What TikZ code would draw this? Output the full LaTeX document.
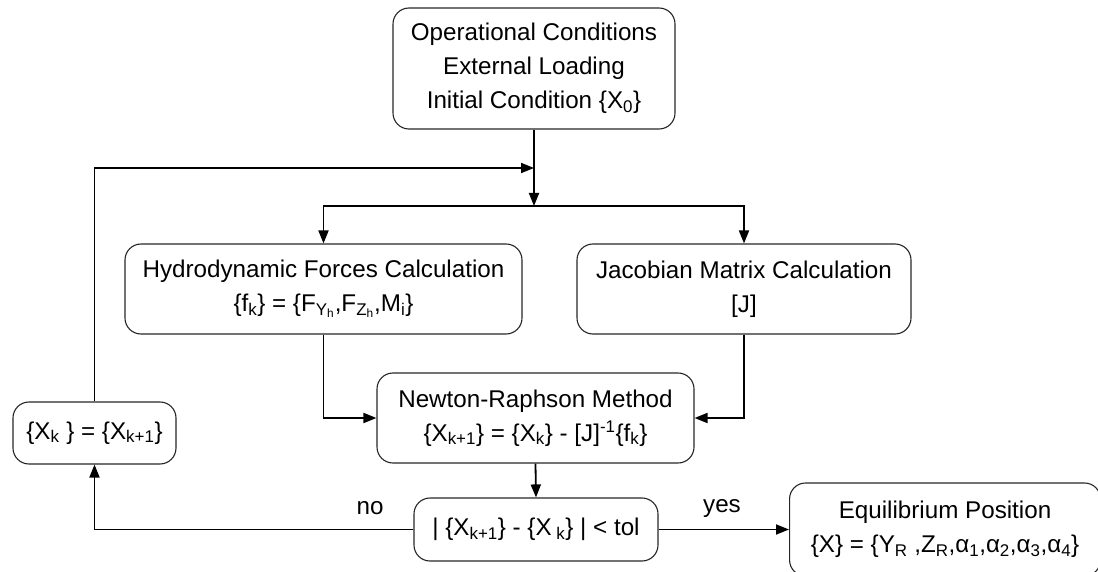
\documentclass[tikz,border=0pt]{standalone}
\usepackage{fontspec}
\setmainfont{Liberation Sans}
\usetikzlibrary{arrows.meta}
\newcommand{\sub}[1]{\textsubscript{#1}}
\begin{document}
\begin{tikzpicture}[x=1pt,y=-1pt,
  box/.style={draw=black!85,line width=1.1pt,rounded corners=16pt,align=center,inner sep=0pt,
    font=\fontsize{24.2}{34}\selectfont},
  conn/.style={line width=1.8pt,-{Triangle[length=13pt,width=10pt]}},
  lbl/.style={font=\fontsize{24.2}{28}\selectfont,inner sep=0pt}]
\useasboundingbox (0,0) rectangle (1098,572);
\node[box,minimum width=282pt,minimum height=121pt] (top) at (534,68.5)
  {Operational Conditions\\External Loading\\Initial Condition \{X\sub{0}\}};
\node[box,minimum width=397pt,minimum height=90pt] (hydro) at (323.5,289)
  {Hydrodynamic Forces Calculation\\\{f\sub{k}\} = \{F\sub{Y\sub{h}},F\sub{Z\sub{h}},M\sub{i}\}};
\node[box,minimum width=334pt,minimum height=90pt] (jac) at (744,289)
  {Jacobian Matrix Calculation\\{[J]}};
\node[box,minimum width=317pt,minimum height=90pt] (newton) at (535.5,418)
  {Newton-Raphson Method\\\{X\sub{k+1}\} = \{X\sub{k}\} - [J]\textsuperscript{-1}\{f\sub{k}\}};
\node[box,minimum width=244pt,minimum height=63pt] (tol) at (536,529.5)
  {| \{X\sub{k+1}\} - \{X\sub{ k}\} | < tol};
\node[box,minimum width=311pt,minimum height=93pt,anchor=west] (eq) at (789,529.5)
  {Equilibrium Position\\\{X\} = \{Y\sub{R} ,Z\sub{R},α\sub{1},α\sub{2},α\sub{3},α\sub{4}\}};
\node[box,minimum width=163pt,minimum height=62pt] (xk) at (94.5,433)
  {\{X\sub{k} \} = \{X\sub{k+1}\}};
\coordinate (split) at (534,206);
\coordinate (join) at (534,168);
\draw[conn] (top.south) -- (split);
\draw[conn] (split) -| (hydro.north);
\draw[conn] (split) -| (jac.north);
\draw[conn] (hydro.south) |- (newton.west);
\draw[conn] (jac.south) |- (newton.east);
\draw[conn] (newton.south) -- (tol.north);
\draw[conn] (tol.east) -- (eq.west);
\draw[conn] (tol.west) -| (xk.south);
\draw[conn] (xk.north) |- (join);
\node[lbl] (yes) at (722,508) {yes};
\node[lbl] (no) at (370,508) {no};
\end{tikzpicture}
\end{document}
